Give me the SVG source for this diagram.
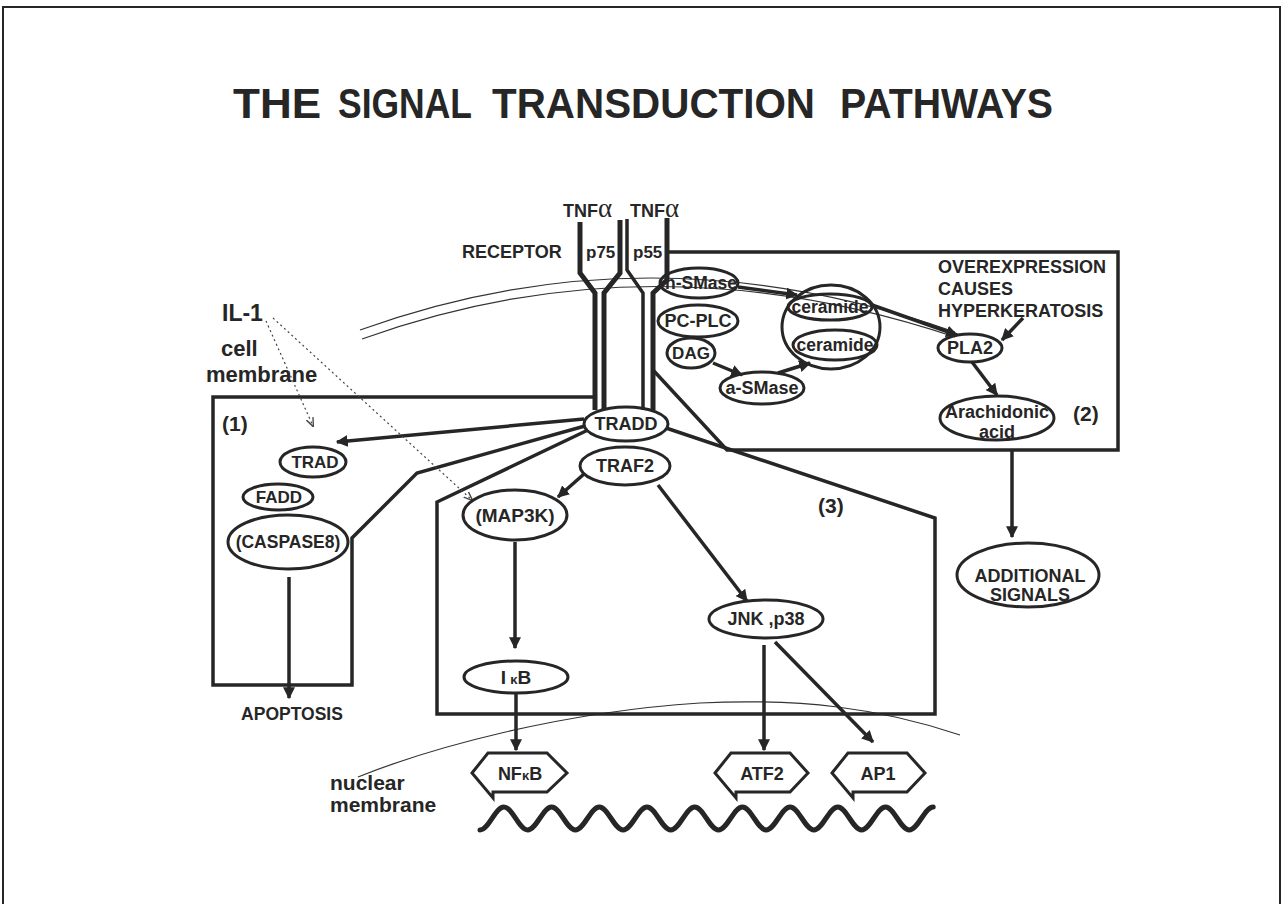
<svg xmlns="http://www.w3.org/2000/svg" width="1283" height="904" viewBox="0 0 1283 904">
<defs>
<style>
.t{font-family:"Liberation Sans",Arial,sans-serif;font-weight:bold;fill:#262626}
.c{text-anchor:middle}
.e{fill:none;stroke:#262626;stroke-width:3}
.ln{fill:none;stroke:#262626;stroke-width:3.5;stroke-linejoin:miter}
.ar{fill:none;stroke:#262626;stroke-width:3.5}
.rc{fill:none;stroke:#262626;stroke-width:5}
.thin{fill:none;stroke:#333;stroke-width:1.2}
.dot{fill:none;stroke:#444;stroke-width:1.2;stroke-dasharray:2 3}
.hex{fill:none;stroke:#262626;stroke-width:3;stroke-linejoin:miter}
</style>
<marker id="ah" viewBox="0 0 10 10" refX="9" refY="5" markerWidth="12" markerHeight="12" markerUnits="userSpaceOnUse" orient="auto">
<path d="M0,0 L10,5 L0,10 z" fill="#262626"/>
</marker>
<marker id="ahd" viewBox="0 0 10 10" refX="9" refY="5" markerWidth="9" markerHeight="9" markerUnits="userSpaceOnUse" orient="auto">
<path d="M0,1 L10,5 L0,9" fill="none" stroke="#444" stroke-width="1.5"/>
</marker>
</defs>
<rect width="1283" height="904" fill="#fff"/>
<path d="M3,904 V7 H1280 V904" fill="none" stroke="#262626" stroke-width="2"/>

<g id="title">
<text class="t" x="233" y="118" font-size="42" textLength="88" lengthAdjust="spacingAndGlyphs">THE</text>
<text class="t" x="338" y="118" font-size="42" textLength="134" lengthAdjust="spacingAndGlyphs">SIGNAL</text>
<text class="t" x="492" y="118" font-size="42" textLength="323" lengthAdjust="spacingAndGlyphs">TRANSDUCTION</text>
<text class="t" x="840" y="118" font-size="42" textLength="213" lengthAdjust="spacingAndGlyphs">PATHWAYS</text>
</g>

<g id="membranes">
<path class="thin" d="M360,330 Q650,225 955,332"/>
<path class="thin" d="M362,339 Q650,235 955,337"/>
<path class="thin" d="M358,777 C430,748 560,712 700,703 C800,698 880,708 960,735"/>
<path d="M480,830 C488.6,830 495.2,807 503.9,807 S519.1,830 527.7,830 S543,807 551.6,807 S566.8,830 575.4,830 S590.7,807 599.3,807 S614.5,830 623.1,830 S638.4,807 647,807 S662.2,830 670.8,830 S686.1,807 694.7,807 S709.9,830 718.5,830 S733.8,807 742.4,807 S757.6,830 766.2,830 S781.5,807 790.1,807 S805.3,830 813.9,830 S829.2,807 837.8,807 S853,830 861.6,830 S876.9,807 885.5,807 S900.7,830 909.3,830 S924.6,807 933.2,807" fill="none" stroke="#262626" stroke-width="5" stroke-linecap="round"/>
</g>

<g id="labels">
<text class="t" x="222" y="321" font-size="23">IL-1</text>
<text class="t" x="221" y="356" font-size="22">cell</text>
<text class="t" x="206" y="382" font-size="22">membrane</text>
<text class="t" x="330" y="790" font-size="21">nuclear</text>
<text class="t" x="330" y="812" font-size="21">membrane</text>
<text class="t" x="462" y="258" font-size="18">RECEPTOR</text>
<text class="t" x="586" y="258" font-size="17">p75</text>
<text class="t" x="633" y="258" font-size="17">p55</text>
<text class="t" x="563" y="217" font-size="18">TNF<tspan font-family="'Liberation Serif',serif" font-weight="normal" font-size="27">α</tspan></text>
<text class="t" x="630" y="217" font-size="18">TNF<tspan font-family="'Liberation Serif',serif" font-weight="normal" font-size="27">α</tspan></text>
<text class="t" x="222" y="431" font-size="21">(1)</text>
<text class="t" x="1073" y="421" font-size="21">(2)</text>
<text class="t" x="818" y="513" font-size="21">(3)</text>
<text class="t" x="938" y="273" font-size="18">OVEREXPRESSION</text>
<text class="t" x="938" y="295" font-size="18">CAUSES</text>
<text class="t" x="938" y="317" font-size="18">HYPERKERATOSIS</text>
<text class="t c" x="292" y="720" font-size="17.5">APOPTOSIS</text>
</g>

<g id="connectors">
<path class="rc" d="M580,222 V273 L595,293 V410"/>
<path class="rc" d="M620,220 V273 L604,293 V410"/>
<path class="ln" stroke-width="2.5" d="M627,219 V270 L643,293 V410"/>
<path class="rc" d="M667,218 V280 L653,293 V410"/>
<path class="ln" d="M593,397 H213 V685 H352 V538 L417,473 L585,426"/>
<path class="ln" d="M588,430 L437,502 V714 H935 V518 L666,428"/>
<path class="ln" d="M667,252 H1118 V450 H727 L653,370"/>
<path class="ar" marker-end="url(#ah)" d="M584,419 L337,442"/>
<path class="ar" marker-end="url(#ah)" d="M289,577 V698"/>
<path class="ar" marker-end="url(#ah)" d="M584,474 L558,497"/>
<path class="ar" marker-end="url(#ah)" d="M515,542 V648"/>
<path class="ar" marker-end="url(#ah)" d="M516,693 V750"/>
<path class="ar" marker-end="url(#ah)" d="M658,485 L747,601"/>
<path class="ar" marker-end="url(#ah)" d="M764,645 V750"/>
<path class="ar" marker-end="url(#ah)" d="M775,642 L873,742"/>
<path class="ar" stroke-width="4" marker-end="url(#ah)" d="M738,287 L797,295"/>
<path class="ar" marker-end="url(#ah)" d="M713,363 L742,375"/>
<path class="ar" marker-end="url(#ah)" d="M778,373 L810,363"/>
<path class="ar" stroke-width="4" marker-end="url(#ah)" d="M872,305 L957,335"/>
<path class="ar" marker-end="url(#ah)" d="M1023,318 L1002,340"/>
<path class="ar" marker-end="url(#ah)" d="M972,362 L997,395"/>
<path class="ar" marker-end="url(#ah)" d="M1012,450 V537"/>
<path class="dot" marker-end="url(#ahd)" d="M266,321 L313,426"/>
<path class="dot" marker-end="url(#ahd)" d="M273,318 L472,500"/>
</g>

<g id="node-tradd"><ellipse class="e" cx="626" cy="424" rx="42" ry="17"/><text class="t c" x="626" y="430" font-size="18">TRADD</text></g>
<g id="node-traf2"><ellipse class="e" cx="625" cy="466" rx="45" ry="19"/><text class="t c" x="625" y="472" font-size="18">TRAF2</text></g>
<g id="node-trad"><ellipse class="e" cx="313" cy="462" rx="33" ry="15"/><text class="t c" x="315" y="468" font-size="17">TRAD</text></g>
<g id="node-fadd"><ellipse class="e" cx="278" cy="497" rx="35" ry="13"/><text class="t c" x="279" y="503" font-size="17">FADD</text></g>
<g id="node-caspase8"><ellipse class="e" cx="288" cy="542" rx="60" ry="27"/><text class="t c" x="288" y="548" font-size="17.5">(CASPASE8)</text></g>
<g id="node-map3k"><ellipse class="e" cx="515" cy="515" rx="52" ry="25"/><text class="t c" x="515" y="522" font-size="19">(MAP3K)</text></g>
<g id="node-ikb"><ellipse class="e" cx="516" cy="677" rx="52" ry="16"/><text class="t c" x="516" y="684" font-size="19">I<tspan font-size="13" dx="4">κ</tspan>B</text></g>
<g id="node-jnk"><ellipse class="e" cx="766" cy="619" rx="57" ry="19"/><text class="t c" x="766" y="625" font-size="18">JNK ,p38</text></g>
<g id="node-nsmase"><ellipse class="e" cx="699" cy="283" rx="39" ry="15"/><text class="t c" x="701" y="289" font-size="17.5">n-SMase</text></g>
<g id="node-pcplc"><ellipse class="e" cx="698" cy="321" rx="40" ry="16"/><text class="t c" x="698" y="327" font-size="18">PC-PLC</text></g>
<g id="node-dag"><ellipse class="e" cx="691" cy="353" rx="24" ry="15"/><text class="t c" x="691" y="359" font-size="17">DAG</text></g>
<g id="node-asmase"><ellipse class="e" cx="762" cy="388" rx="42" ry="16"/><text class="t c" x="762" y="394" font-size="18">a-SMase</text></g>
<g id="node-ceramides"><ellipse class="e" cx="831" cy="327" rx="49" ry="42" stroke-width="3.5"/>
<ellipse class="e" cx="830" cy="307" rx="42" ry="13"/><text class="t c" x="830" y="313" font-size="17.5">ceramide</text>
<ellipse class="e" cx="835" cy="345" rx="42" ry="15"/><text class="t c" x="835" y="351" font-size="17.5">ceramide</text></g>
<g id="node-pla2"><ellipse class="e" cx="970" cy="348" rx="32" ry="14"/><text class="t c" x="970" y="354" font-size="18">PLA2</text></g>
<g id="node-arachidonic"><ellipse class="e" cx="997" cy="418" rx="57" ry="22"/><text class="t c" x="997" y="418" font-size="18">Arachidonic</text><text class="t c" x="997" y="438" font-size="18">acid</text></g>
<g id="node-additional"><ellipse class="e" cx="1028" cy="575" rx="71" ry="32"/><text class="t c" x="1030" y="582" font-size="18">ADDITIONAL</text><text class="t c" x="1030" y="601" font-size="18">SIGNALS</text></g>
<g id="node-nfkb"><path class="hex" d="M472,773 L488,753 H547 L567,773 L547,792 H493 V798 Z"/><text class="t c" x="520" y="780" font-size="18">NF<tspan font-size="13">κ</tspan>B</text></g>
<g id="node-atf2"><path class="hex" d="M715,773 L731,753 H790 L808,773 L790,792 H736 V798 Z"/><text class="t c" x="762" y="780" font-size="18">ATF2</text></g>
<g id="node-ap1"><path class="hex" d="M832,773 L848,753 H907 L925,773 L907,792 H853 V798 Z"/><text class="t c" x="878" y="780" font-size="18">AP1</text></g>
</svg>
